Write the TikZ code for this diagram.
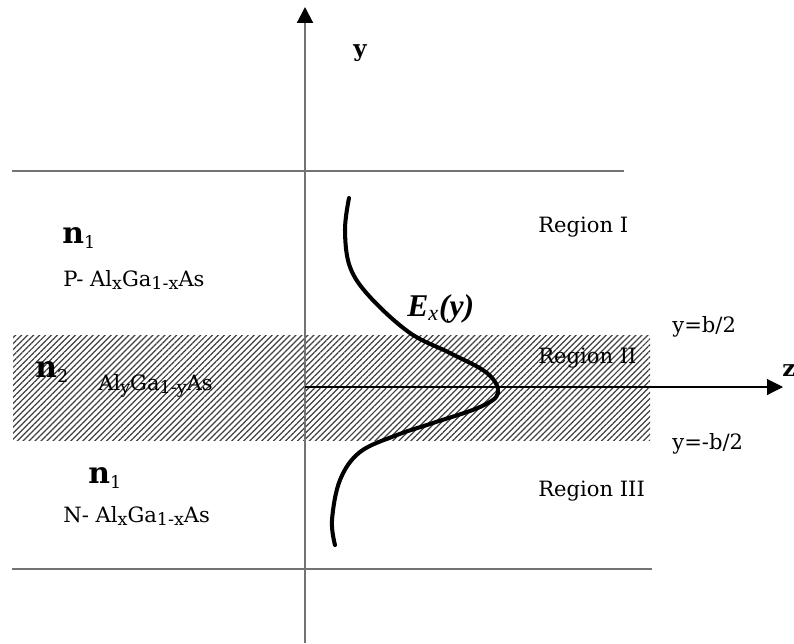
\documentclass[tikz,border=0pt]{standalone}
\usepackage{fontspec}
\setmainfont{DejaVu Serif}
\newfontfamily\efont{Liberation Serif}
\usetikzlibrary{arrows.meta,patterns.meta}
\newcommand{\dn}[1]{\raisebox{-0.35ex}{\fontsize{10}{12}\selectfont #1}}

\begin{document}
\begin{tikzpicture}[x=0.02cm, y=-0.02cm,
  lbl/.style={font=\fontsize{12}{14}\selectfont, inner sep=0pt, anchor=base west},
  idx/.style={font=\fontsize{17}{19}\selectfont\bfseries, inner sep=0pt, anchor=base west},
  axlbl/.style={font=\fontsize{13}{15}\selectfont\bfseries, inner sep=0pt, anchor=base west},
  bound/.style={draw=black!55, line width=1.2pt},
  layer/.style={pattern={Lines[angle=45,distance=2.4pt,line width=0.7pt]},
                pattern color=black!75},
  field/.style={line width=2.3pt, line cap=round},
  tip/.style={-{Triangle[length=9pt,width=9pt,black]}}
]
\useasboundingbox (0,0) rectangle (794,643);

% guiding layer
\path[layer] (13,335) rectangle (650,440);

% cladding boundaries
\coordinate (topL) at (12,171);
\coordinate (topR) at (624,171);
\coordinate (botL) at (12,569);
\coordinate (botR) at (652,569);
\draw[bound] (topL) -- (topR);
\draw[bound] (botL) -- (botR);

% axes
\coordinate (o)    at (305,387);
\coordinate (ybot) at (305,643);
\coordinate (ytop) at (305,7);
\coordinate (zend) at (783,387);
\draw[tip, draw=black!55, line width=1.2pt] (ybot) -- (ytop);
\draw[tip, line width=0.6pt] (o) -- (zend);
\node[axlbl] (ylab) at (353,56) {y};
\node[axlbl] (zlab) at (782,376) {z};

% field profile
\draw[field] plot[smooth, tension=0.6] coordinates {
  (349,198) (345,230) (350,267) (370,297) (410,333) (450,353)
  (487,373) (498,393) (480,407) (433,423) (397,435) (360,452)
  (340,480) (332,520) (335,545)};
\node[inner sep=0pt, anchor=base west, font=\fontsize{18}{20}\selectfont\efont\bfseries\itshape]
  (ex) at (407,316) {E\textsubscript{\mdseries x}(y)};

% layers
\node[idx] (n1a) at (62,243) {n\dn{\mdseries 1}};
\node[lbl] (pal) at (63,286) {P- Al\dn{x}Ga\dn{1-x}As};
\node[idx] (n2) at (35,377) {n\dn{\mdseries 2}};
\node[lbl] (gal) at (98,390) {Al\dn{y}Ga\dn{1-y}As};
\node[idx] (n1b) at (88,483) {n\dn{\mdseries 1}};
\node[lbl] (nal) at (63,522) {N- Al\dn{x}Ga\dn{1-x}As};

% regions
\node[lbl] (r1) at (538,232) {Region I};
\node[lbl] (r2) at (538,363) {Region II};
\node[lbl] (r3) at (538,496) {Region III};
\node[lbl] (bp) at (672,332) {y=b/2};
\node[lbl] (bm) at (672,449) {y=-b/2};
\end{tikzpicture}
\end{document}
